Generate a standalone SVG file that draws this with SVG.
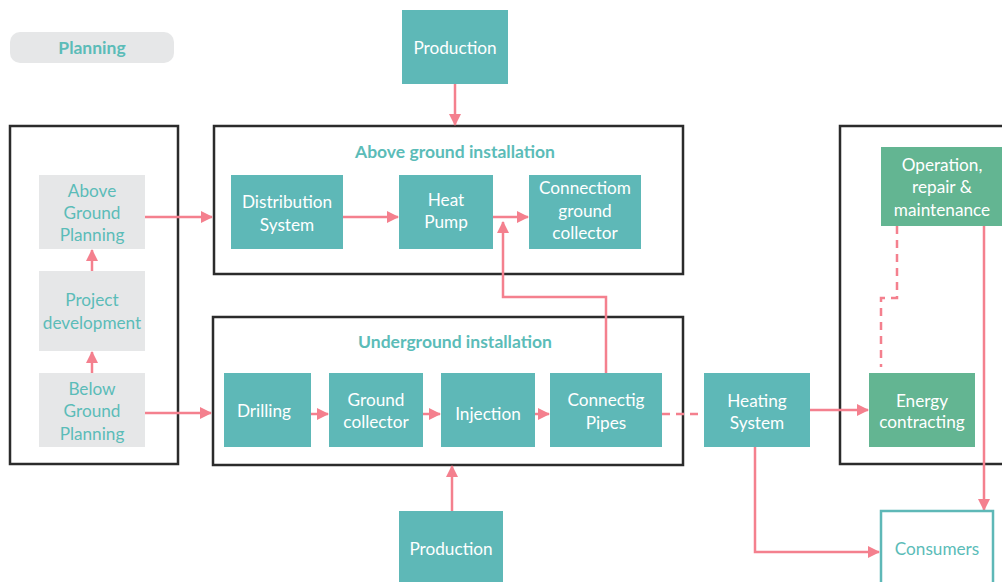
<svg xmlns="http://www.w3.org/2000/svg" width="1002" height="582" viewBox="0 0 1002 582">
<defs>
<style>
.frame{fill:none;stroke:#2b2b2b;stroke-width:2.5}
.teal{fill:#5eb8b7}
.green{fill:#63b592}
.gray{fill:#e6e7e8}
.wt{fill:#ffffff;font-family:Lato,"Open Sans",sans-serif;font-size:17.2px;text-anchor:middle}
.tt{fill:#5bbcb8;font-family:Lato,"Open Sans",sans-serif;font-size:17.2px;text-anchor:middle}
.title{fill:#5bbcb8;font-family:Lato,"Open Sans",sans-serif;font-size:17.5px;font-weight:bold;text-anchor:middle}
.ln{fill:none;stroke:#f4808e;stroke-width:2.5}
.dash{stroke-dasharray:8 6}
</style>
<marker id="ah" viewBox="0 0 12 12" refX="11" refY="6" markerWidth="12" markerHeight="12" markerUnits="userSpaceOnUse" orient="auto">
<path d="M0,0 L12,6 L0,12 Z" fill="#f4808e"/>
</marker>
</defs>
<rect width="1002" height="582" fill="#ffffff"/>

<g id="planning-label">
<rect x="10" y="32" width="164" height="31" rx="10" class="gray"/>
<text x="92" y="54" class="title">Planning</text>
</g>

<g id="frames">
<rect x="10" y="126" width="168" height="338" class="frame"/>
<rect x="214" y="126" width="469" height="148" class="frame"/>
<rect x="213" y="317" width="470" height="148" class="frame"/>
<rect x="840" y="126" width="170" height="338" class="frame"/>
<text x="455" y="158" class="title">Above ground installation</text>
<text x="455" y="348" class="title">Underground installation</text>
</g>

<g id="connectors">
<line x1="92" y1="271" x2="92" y2="250" class="ln" marker-end="url(#ah)"/>
<line x1="92" y1="373" x2="92" y2="352" class="ln" marker-end="url(#ah)"/>
<line x1="145" y1="217" x2="212" y2="217" class="ln" marker-end="url(#ah)"/>
<line x1="145" y1="413" x2="211" y2="413" class="ln" marker-end="url(#ah)"/>
<line x1="455" y1="84" x2="455" y2="125" class="ln" marker-end="url(#ah)"/>
<line x1="452" y1="511" x2="452" y2="466" class="ln" marker-end="url(#ah)"/>
<line x1="343" y1="217" x2="398" y2="217" class="ln" marker-end="url(#ah)"/>
<line x1="493" y1="217" x2="528" y2="217" class="ln" marker-end="url(#ah)"/>
<polyline points="606,373 606,297 503,297 503,222" class="ln" marker-end="url(#ah)"/>
<line x1="311" y1="414" x2="328" y2="414" class="ln" marker-end="url(#ah)"/>
<line x1="423" y1="414" x2="440" y2="414" class="ln" marker-end="url(#ah)"/>
<line x1="535" y1="414" x2="549" y2="414" class="ln" marker-end="url(#ah)"/>
<line x1="662" y1="414" x2="704" y2="414" class="ln dash"/>
<line x1="810" y1="410" x2="868" y2="410" class="ln" marker-end="url(#ah)"/>
<polyline points="897,226 897,298 881,298 881,367" class="ln dash"/>
<line x1="984" y1="226" x2="984" y2="510" class="ln" marker-end="url(#ah)"/>
<polyline points="755,447 755,552 879,552" class="ln" marker-end="url(#ah)"/>
</g>

<g id="above-ground-planning">
<rect x="39" y="175" width="106" height="74" class="gray"/>
<text class="tt"><tspan x="92" y="197">Above</tspan><tspan x="92" y="219">Ground</tspan><tspan x="92" y="241">Planning</tspan></text>
</g>
<g id="project-development">
<rect x="39" y="271" width="106" height="80" class="gray"/>
<text class="tt"><tspan x="92" y="306">Project</tspan><tspan x="92" y="329">development</tspan></text>
</g>
<g id="below-ground-planning">
<rect x="39" y="373" width="106" height="74" class="gray"/>
<text class="tt"><tspan x="92" y="395">Below</tspan><tspan x="92" y="417">Ground</tspan><tspan x="92" y="440">Planning</tspan></text>
</g>

<g id="production-top">
<rect x="402" y="10" width="106" height="74" class="teal"/>
<text x="455" y="54" class="wt">Production</text>
</g>
<g id="production-bottom">
<rect x="399" y="511" width="104" height="75" class="teal"/>
<text x="451" y="555" class="wt">Production</text>
</g>

<g id="distribution-system">
<rect x="231" y="175" width="112" height="74" class="teal"/>
<text class="wt"><tspan x="287" y="208">Distribution</tspan><tspan x="287" y="231">System</tspan></text>
</g>
<g id="heat-pump">
<rect x="399" y="175" width="94" height="74" class="teal"/>
<text class="wt"><tspan x="446" y="206">Heat</tspan><tspan x="446" y="228">Pump</tspan></text>
</g>
<g id="connectiom-ground-collector">
<rect x="529" y="175" width="112" height="74" class="teal"/>
<text class="wt"><tspan x="585" y="194">Connectiom</tspan><tspan x="585" y="217">ground</tspan><tspan x="585" y="239">collector</tspan></text>
</g>

<g id="drilling">
<rect x="224" y="373" width="87" height="74" class="teal"/>
<text x="264" y="417" class="wt">Drilling</text>
</g>
<g id="ground-collector">
<rect x="329" y="373" width="94" height="74" class="teal"/>
<text class="wt"><tspan x="376" y="406">Ground</tspan><tspan x="376" y="428">collector</tspan></text>
</g>
<g id="injection">
<rect x="441" y="373" width="94" height="74" class="teal"/>
<text x="488" y="420" class="wt">Injection</text>
</g>
<g id="connectig-pipes">
<rect x="550" y="373" width="112" height="74" class="teal"/>
<text class="wt"><tspan x="606" y="406">Connectig</tspan><tspan x="606" y="429">Pipes</tspan></text>
</g>

<g id="heating-system">
<rect x="704" y="373" width="106" height="74" class="teal"/>
<text class="wt"><tspan x="757" y="407">Heating</tspan><tspan x="757" y="429">System</tspan></text>
</g>

<g id="operation-repair-maintenance">
<rect x="881" y="147" width="125" height="79" class="green"/>
<text class="wt"><tspan x="942" y="171">Operation,</tspan><tspan x="942" y="193">repair &amp;</tspan><tspan x="942" y="216">maintenance</tspan></text>
</g>
<g id="energy-contracting">
<rect x="869" y="373" width="106" height="74" class="green"/>
<text class="wt"><tspan x="922" y="407">Energy</tspan><tspan x="922" y="428">contracting</tspan></text>
</g>

<g id="consumers">
<rect x="881" y="511" width="112" height="80" fill="#ffffff" stroke="#5eb8b7" stroke-width="2.5"/>
<text x="937" y="555" class="tt">Consumers</text>
</g>
</svg>
